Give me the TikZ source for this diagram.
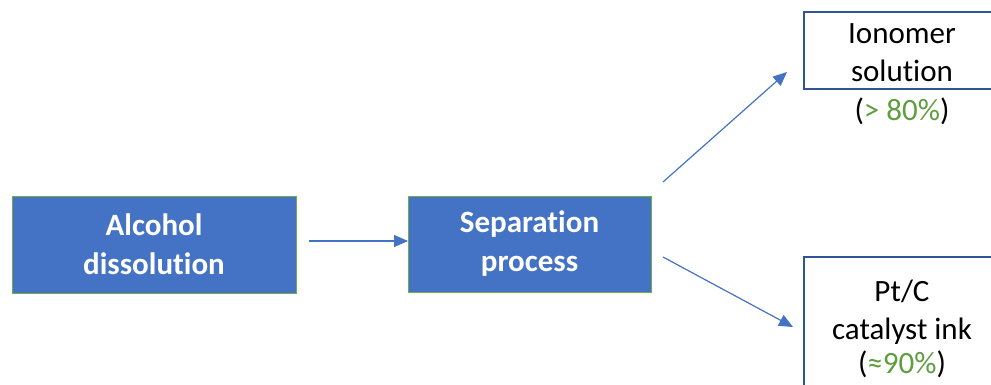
\documentclass[tikz,border=0pt]{standalone}
\usepackage{fontspec}
\setmainfont{Carlito}[Ligatures={NoCommon}]
\usetikzlibrary{arrows.meta,calc}
\definecolor{boxblue}{HTML}{4472C4}
\definecolor{boxgreen}{HTML}{70AD47}
\definecolor{darkblue}{HTML}{2F5597}
\definecolor{pctgreen}{HTML}{5E9E3E}
\tikzset{
  x=1pt, y=-1pt,
  txt/.style={font=\fontsize{31}{38}\selectfont, align=center, inner sep=0pt},
  procbox/.style={draw=boxgreen, fill=boxblue, line width=1pt, text=white,
    font=\fontsize{31}{39}\selectfont\bfseries, align=center, inner sep=0pt},
  outbox/.style={draw=darkblue, fill=white, line width=1.5pt, inner sep=0pt},
  conn/.style={draw=boxblue, line width=1.2pt, -{Triangle[length=14pt,width=12pt]}}
}
\begin{document}
\begin{tikzpicture}
\useasboundingbox (0,0) rectangle (991,385);
\clip (0,0) rectangle (991,385);
\node[procbox, minimum width=284pt, minimum height=97pt] (alc) at (154,244.5) {Alcohol\\dissolution};
\node[procbox, minimum width=243pt, minimum height=96pt] (sep) at (529.5,244) {Separation\\process};
\node[outbox, minimum width=196pt, minimum height=77pt] (ion) at (902,50.5) {};
\node[txt] (iontxt) at (902,53) {Ionomer\\solution};
\node[txt] (ionpct) at (902,111) {(\textcolor{pctgreen}{> 80\%})};
\node[outbox, minimum width=196pt, minimum height=150pt] (pt) at (902,332) {};
\node[txt] (pttxt) at (902,312) {Pt/C\\catalyst ink};
\node[txt] (ptpct) at (902,364) {(\textcolor{pctgreen}{≈90\%})};
\coordinate (a1s) at (309,241);
\coordinate (a1e) at (408,241);
\coordinate (a2s) at (663,182);
\coordinate (a2e) at (787,72);
\coordinate (a3s) at (663,257);
\coordinate (a3e) at (793,327);
\draw[conn] (a1s) -- (a1e);
\draw[conn] (a2s) -- (a2e);
\draw[conn] (a3s) -- (a3e);
\end{tikzpicture}
\end{document}
